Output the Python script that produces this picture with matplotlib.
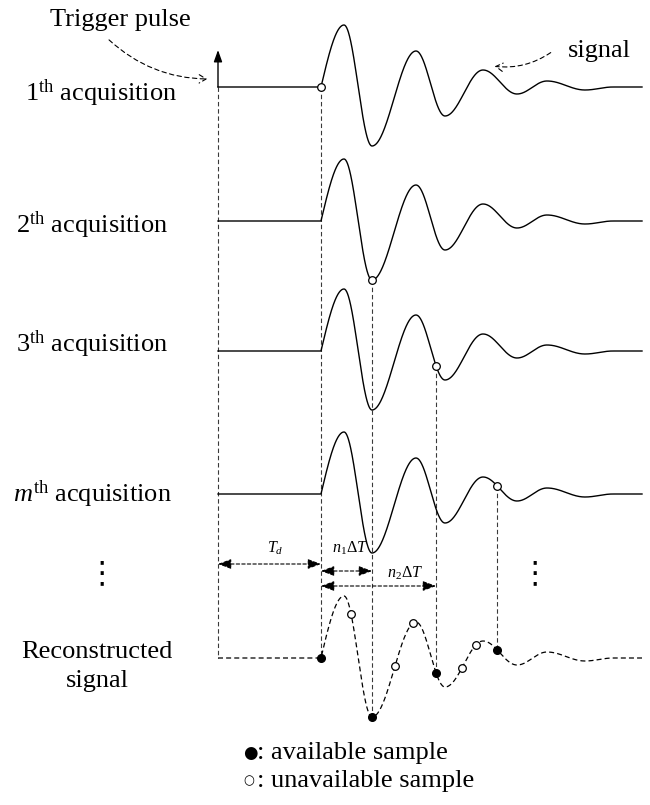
import numpy as np
import matplotlib
matplotlib.use('Agg')
import matplotlib.pyplot as plt
from matplotlib.patches import FancyArrowPatch

plt.rcParams['font.family'] = ['Liberation Serif', 'DejaVu Sans']
plt.rcParams['mathtext.fontset'] = 'custom'
plt.rcParams['mathtext.rm'] = 'Liberation Serif'
plt.rcParams['mathtext.it'] = 'Liberation Serif:italic'

# ---------------- data ----------------
row_labels = [r'1$^{\mathrm{th}}$ acquisition', r'2$^{\mathrm{th}}$ acquisition',
              r'3$^{\mathrm{th}}$ acquisition', r'$m^{\mathrm{th}}$ acquisition']
recon_label = ['Reconstructed', 'signal']
# waveform extrema (time after trigger, amplitude)
wave_times = [103, 126, 154, 198, 227, 265, 299, 329, 367, 395, 424]
wave_amps = [0, 62, -59, 36, -29, 17, -7, 6, -3, 0, 0]
# sampling instants of each acquisition (available samples)
sample_times = [103, 154, 218, 279]
# instants of the unavailable samples on the reconstructed signal
unavailable_times = [133, 177, 195, 244, 258]
delay_labels = [r'$T_d$', r'$n_1\Delta T$', r'$n_2\Delta T$']
legend_texts = [': available sample', ': unavailable sample']

# ---------------- layout ----------------
X0 = 218                      # trigger position (px)
row_base = [87, 221, 351, 494]
row_text = [(25, 101), (16, 233), (16, 352), (13, 502)]
recon_base = 658
FS = 19

fig = plt.figure(figsize=(6.5, 8.05), dpi=100)
ax = fig.add_axes([0, 0, 1, 1])
ax.set_xlim(-X0, 650 - X0)
ax.set_ylim(805, 0)
ax.axis('off')

T = np.asarray(wave_times, float)
A = np.asarray(wave_amps, float)


def waveform(t):
    t = np.atleast_1d(np.asarray(t, float))
    y = np.zeros_like(t)
    m = (t >= T[0]) & (t <= T[1])
    y[m] = A[1] * np.sin(np.pi / 2 * (t[m] - T[0]) / (T[1] - T[0]))
    for i in range(1, len(T) - 1):
        m = (t > T[i]) & (t <= T[i + 1])
        f = (t[m] - T[i]) / (T[i + 1] - T[i])
        y[m] = A[i] + (A[i + 1] - A[i]) * (1 - np.cos(np.pi * f)) / 2
    return y


t = np.linspace(0, T[-1], 1500)
w = waveform(t)

dash_kw = dict(color='#3a3a3a', lw=0.8, ls=(0, (4, 2.5)))

# trigger vertical dashed line
ax.plot([0, 0], [row_base[0], recon_base], zorder=1, **dash_kw)
# trigger arrow
ax.annotate('', xy=(0, 50), xytext=(0, row_base[0]),
            arrowprops=dict(arrowstyle='-|>,head_length=0.7,head_width=0.25',
                            color='black', lw=1.0, shrinkA=0, shrinkB=0,
                            mutation_scale=10))

# acquisitions
for i, (lab, base) in enumerate(zip(row_labels, row_base)):
    ax.plot(t, base - w, color='black', lw=1.0, zorder=2)
    ts = sample_times[i]
    ys = base - waveform(ts)[0]
    yr = recon_base - waveform(ts)[0]
    ax.plot([ts, ts], [ys, yr], zorder=1, **dash_kw)
    ax.plot([ts], [ys], 'o', ms=5.5, mfc='white', mec='black', mew=0.9, zorder=4)
    tx, ty = row_text[i]
    ax.text(tx - X0, ty, lab, fontsize=FS, ha='left', va='baseline')

# reconstructed signal
ax.plot(t, recon_base - w, color='black', lw=0.9, ls=(0, (4, 2.5)), zorder=2)
ax.plot(sample_times, recon_base - waveform(sample_times), 'o', ms=5.5,
        mfc='black', mec='black', zorder=4)
ax.plot(unavailable_times, recon_base - waveform(unavailable_times), 'o', ms=5.5,
        mfc='white', mec='black', mew=0.9, zorder=4)
ax.text(97 - X0, 658, recon_label[0], fontsize=FS, ha='center', va='baseline')
ax.text(97 - X0, 687, recon_label[1], fontsize=FS, ha='center', va='baseline')

# delay arrows
arrow_kw = dict(arrowstyle='<|-|>,head_length=0.8,head_width=0.3', color='black',
                lw=0.8, ls=(0, (3, 2)), shrinkA=0, shrinkB=0, mutation_scale=10)
spans = [(0, sample_times[0], 564), (sample_times[0], sample_times[1], 571),
         (sample_times[0], sample_times[2], 586)]
text_pos = [(275, 553), (350, 553), (405, 578)]
for (a, b, y), lab, (px, py) in zip(spans, delay_labels, text_pos):
    ax.annotate('', xy=(b, y), xytext=(a, y), arrowprops=arrow_kw)
    ax.text(px - X0, py, lab, fontsize=11.5, ha='center', va='baseline')

# vertical ellipses
for x in (102, 535):
    ax.text(x - X0, 574, '⋮', fontsize=22, ha='center', va='center',
            family=['DejaVu Sans'])

# annotations
ax.text(50 - X0, 26, 'Trigger pulse', fontsize=FS, ha='left', va='baseline')
ax.add_patch(FancyArrowPatch((107 - X0, 38), (210 - X0, 79),
                             connectionstyle='arc3,rad=0.2',
                             arrowstyle='->,head_length=5,head_width=3',
                             color='black', lw=0.8, ls=(0, (4, 3))))
ax.text(568 - X0, 57, 'signal', fontsize=FS, ha='left', va='baseline')
ax.add_patch(FancyArrowPatch((553 - X0, 51), (492 - X0, 66),
                             connectionstyle='arc3,rad=-0.2',
                             arrowstyle='->,head_length=5,head_width=3',
                             color='black', lw=0.8, ls=(0, (4, 3))))

# legend
ax.text(250 - X0, 753, '●', fontsize=12, ha='center', va='center', family=['DejaVu Sans'])
ax.text(257 - X0, 759, legend_texts[0], fontsize=FS, ha='left', va='baseline')
ax.text(249 - X0, 781, '○', fontsize=9, ha='center', va='center', family=['DejaVu Sans'])
ax.text(257 - X0, 787, legend_texts[1], fontsize=FS, ha='left', va='baseline')

fig.savefig('out.png', dpi=100)
